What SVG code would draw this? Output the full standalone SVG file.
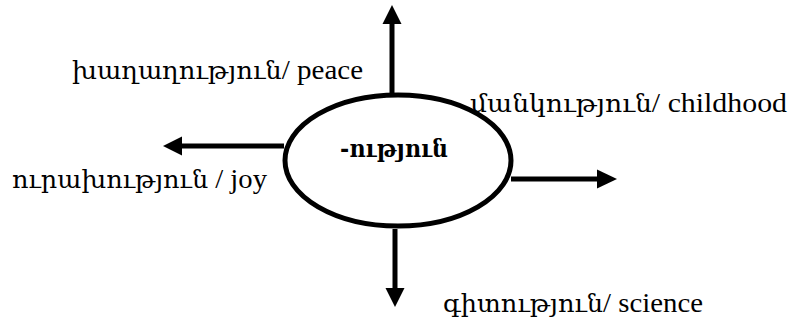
<svg xmlns="http://www.w3.org/2000/svg" width="792" height="324" viewBox="0 0 792 324">
<defs>
<style>
text{font-family:"DejaVu Serif","Liberation Serif",serif;font-size:24px;fill:#000}
.l{font-family:"Liberation Serif","DejaVu Serif",serif;font-size:27px}
.c{stroke:#000;stroke-width:5;fill:none}
.h{fill:#000;stroke:none}
</style>
</defs>
<rect width="792" height="324" fill="#fff"/>
<g id="connectors">
<line class="c" x1="392" y1="93" x2="392" y2="22"/>
<polygon class="h" points="392,5 382.5,24 401.5,24"/>
<line class="c" x1="284" y1="146" x2="180" y2="146"/>
<polygon class="h" points="163,146 182,136.5 182,155.5"/>
<line class="c" x1="511" y1="179" x2="599" y2="179"/>
<polygon class="h" points="617,179 597,169.5 597,188.5"/>
<line class="c" x1="395" y1="229" x2="395" y2="290"/>
<polygon class="h" points="395,307 385.5,288 404.5,288"/>
</g>
<g id="center">
<ellipse cx="398" cy="160.5" rx="113" ry="65.5" fill="#fff" stroke="#000" stroke-width="5"/>
<text x="340" y="157" font-weight="bold" textLength="108" lengthAdjust="spacingAndGlyphs">-ություն</text>
</g>
<g id="peace"><text x="72" y="79" textLength="291" lengthAdjust="spacingAndGlyphs">խաղաղություն<tspan class="l">/ peace</tspan></text></g>
<g id="childhood"><text x="470" y="112" textLength="317" lengthAdjust="spacingAndGlyphs">մանկություն<tspan class="l">/ childhood</tspan></text></g>
<g id="joy"><text x="12" y="188" textLength="255" lengthAdjust="spacingAndGlyphs">ուրախություն<tspan class="l"> / joy</tspan></text></g>
<g id="science"><text x="443" y="312" textLength="260" lengthAdjust="spacingAndGlyphs">գիտություն<tspan class="l">/ science</tspan></text></g>
</svg>
